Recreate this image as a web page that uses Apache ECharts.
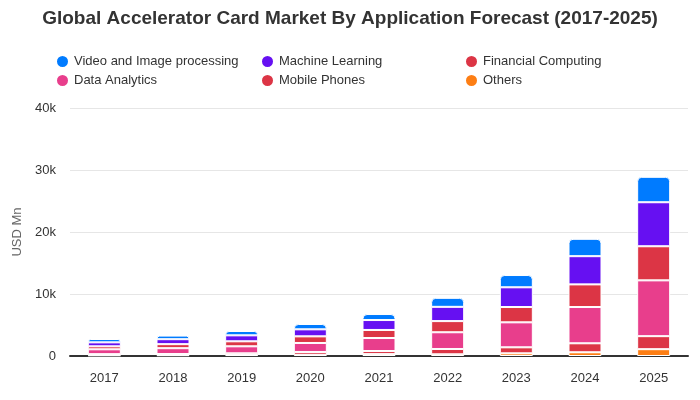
<!DOCTYPE html>
<html><head><meta charset="utf-8">
<script src="https://cdn.jsdelivr.net/npm/echarts@6/dist/echarts.min.js"></script>
<style>html,body{margin:0;padding:0;background:#fff}#c{width:700px;height:400px}</style>
</head><body><div id="c"></div>
<script>
const years = ['2017','2018','2019','2020','2021','2022','2023','2024','2025'];
const others = [100,120,150,200,300,270,430,600,1100];
const mobilePhones = [200,200,280,450,500,860,970,1450,2100];
const dataAnalytics = [780,940,1130,1450,2100,2700,4030,5850,9000];
const financialComputing = [480,650,810,1070,1300,1800,2470,3650,5500];
const machineLearning = [640,800,960,1130,1600,2300,3180,4550,7100];
const videoImage = [540,580,700,860,970,1450,1980,2800,4100];
const yTicks = ['0','10k','20k','30k','40k'];

const font = 'Liberation Sans, Arial, sans-serif';
function s(name, data, color, top) {
  return {name, type:'bar', stack:'t', data, barWidth:33,
    itemStyle:{color, borderColor:'#fff', borderWidth:1, borderRadius: top?[4,4,0,0]:0},
    emphasis:{disabled:true}};
}
const legendBase = {orient:'vertical', itemWidth:13, itemHeight:13, itemGap:4, icon:'circle',
  textStyle:{fontFamily:font, fontSize:13, color:'#333'}, top:49};
const chart = echarts.init(document.getElementById('c'), null, {renderer:'canvas'});
chart.setOption({
  animation:false,
  title:{text:'Global Accelerator Card Market By Application Forecast (2017-2025)', left:'center', top:4,
    textStyle:{fontFamily:font, fontWeight:'bold', fontSize:19, color:'#333'}},
  legend:[
    Object.assign({}, legendBase, {left:50, data:['Video and Image processing','Data Analytics']}),
    Object.assign({}, legendBase, {left:255, data:['Machine Learning','Mobile Phones']}),
    Object.assign({}, legendBase, {left:459, data:['Financial Computing','Others']})
  ],
  grid:{left:70, right:12, top:108, bottom:44},
  xAxis:{type:'category', data:years,
    axisLine:{lineStyle:{color:'#333', width:2}}, axisTick:{show:false},
    axisLabel:{fontFamily:font, fontSize:13, color:'#333', margin:16}},
  yAxis:{type:'value', min:0, max:40000, interval:10000, name:'USD Mn', nameLocation:'middle', nameGap:38,
    nameTextStyle:{fontFamily:font, fontSize:13, color:'#666'},
    axisLabel:{fontFamily:font, fontSize:13, color:'#333', margin:14, formatter:(v)=>yTicks[v/10000]},
    splitLine:{lineStyle:{color:'#e6e6e6'}}},
  series:[
    s('Others', others, '#fd7e14'),
    s('Mobile Phones', mobilePhones, '#dc3545'),
    s('Data Analytics', dataAnalytics, '#e83e8c'),
    s('Financial Computing', financialComputing, '#dc3545'),
    s('Machine Learning', machineLearning, '#6610f2'),
    s('Video and Image processing', videoImage, '#007bff', true)
  ]
});
</script></body></html>
